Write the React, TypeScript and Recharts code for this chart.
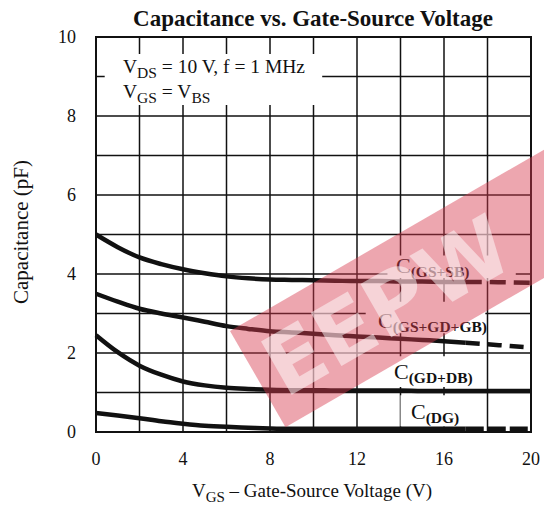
import React from 'react';
import { LineChart, Line, XAxis, YAxis, CartesianGrid, ReferenceArea } from 'recharts';

// V_GS sweep (V) and capacitance curves (pF)
const vgs = [0, 1, 2, 3, 4, 5, 6, 7, 8, 9, 10, 11, 12, 13, 14, 15, 16, 17, 18, 19, 20];
const cGsSb = [5.0, 4.68, 4.42, 4.25, 4.12, 4.02, 3.94, 3.89, 3.86, 3.85, 3.84, 3.83, 3.82, 3.82, 3.81, 3.81, 3.8, 3.8, 3.8, 3.79, 3.78];
const cGsGdGb = [3.5, 3.3, 3.12, 3.0, 2.9, 2.79, 2.68, 2.61, 2.55, 2.52, 2.49, 2.45, 2.42, 2.39, 2.36, 2.33, 2.3, 2.26, 2.22, 2.18, 2.14];
const cGdDb = [2.45, 2.02, 1.68, 1.45, 1.28, 1.18, 1.12, 1.09, 1.07, 1.06, 1.06, 1.05, 1.05, 1.05, 1.05, 1.04, 1.04, 1.04, 1.04, 1.04, 1.04];
const cDg = [0.48, 0.42, 0.35, 0.27, 0.21, 0.16, 0.13, 0.11, 0.09, 0.08, 0.08, 0.08, 0.08, 0.08, 0.08, 0.08, 0.08, 0.08, 0.08, 0.08, 0.08];

const xTicks = [0, 4, 8, 12, 16, 20];
const yTicks = [0, 2, 4, 6, 8, 10];
const gridX = [2, 4, 6, 8, 10, 12, 14, 16, 18];
const gridY = [1, 2, 3, 4, 5, 6, 7, 8, 9];

// curves go dashed past this voltage (extrapolated region)
const DASH_FROM = 17;

const seg = (ys: number[], from: number, to: number) =>
  vgs.map((x, i) => ({ x, y: ys[i] })).filter((p) => p.x >= from && p.x <= to);

const W = 544;
const H = 508;
const serif = '"Liberation Serif", "Times New Roman", serif';
const ink = '#111';

const curve = { type: 'monotone' as const, dataKey: 'y', stroke: ink, strokeWidth: 4.5, dot: false, isAnimationActive: false };

const CLabel = ({ x, y, sub }: { x: number; y: number; sub: string }) => (
  <text x={x} y={y} fontFamily={serif} fill={ink}>
    <tspan fontSize={22}>C</tspan>
    <tspan fontSize={15.5} fontWeight="bold" dy={4}>{sub}</tspan>
  </text>
);

const App: React.FC = () => {
  return (
    <div style={{ position: 'relative', width: W, height: H }}>
      <style>{'body { margin: 0; }'}</style>
      <LineChart width={W} height={H} margin={{ top: 37, right: 13, left: 0, bottom: 0 }}>
        <CartesianGrid
          stroke={ink}
          strokeWidth={1.5}
          horizontalValues={gridY}
          verticalValues={gridX}
        />
        <XAxis
          dataKey="x"
          type="number"
          domain={[0, 20]}
          ticks={xTicks}
          height={76}
          axisLine={false}
          tickLine={false}
          tickSize={0}
          tickMargin={20}
          tick={{ fontFamily: serif, fontSize: 18, fill: ink }}
        />
        <YAxis
          type="number"
          domain={[0, 10]}
          ticks={yTicks}
          width={96}
          axisLine={false}
          tickLine={false}
          tickSize={0}
          tickMargin={20}
          tick={{ fontFamily: serif, fontSize: 18, fill: ink }}
        />
        <ReferenceArea x1={0.4} x2={10.4} y1={8.28} y2={9.57} fill="#fff" fillOpacity={1} stroke="none" />
        <ReferenceArea x1={13.4} x2={19.3} y1={3.9} y2={4.47} fill="#fff" fillOpacity={1} stroke="none" />
        <ReferenceArea x1={12.4} x2={17.9} y1={2.5} y2={3.3} fill="#fff" fillOpacity={1} stroke="none" />
        <ReferenceArea x1={13.3} x2={17.9} y1={1.14} y2={1.92} fill="#fff" fillOpacity={1} stroke="none" />
        <ReferenceArea x1={14.0} x2={17.5} y1={0.14} y2={0.93} fill="#fff" fillOpacity={1} stroke="none" />
        <ReferenceArea x1={0} x2={20} y1={0} y2={10} fill="none" stroke={ink} strokeWidth={2} />

        <Line {...curve} data={seg(cGsSb, 0, DASH_FROM)} />
        <Line {...curve} data={seg(cGsSb, DASH_FROM, 20)} strokeDasharray="16 8" />
        <Line {...curve} data={seg(cGsGdGb, 0, DASH_FROM)} />
        <Line {...curve} data={seg(cGsGdGb, DASH_FROM, 20)} strokeDasharray="14 8" />
        <Line {...curve} data={seg(cGdDb, 0, 20)} />
        <Line {...curve} data={seg(cDg, 0, DASH_FROM)} />
        <Line {...curve} data={seg(cDg, DASH_FROM, 20)} strokeDasharray="18 4" />
      </LineChart>

      <svg width={W} height={H} style={{ position: 'absolute', left: 0, top: 0, pointerEvents: 'none' }}>
        <text x={313} y={26} textAnchor="middle" fontFamily={serif} fontSize={23} fontWeight="bold" fill={ink}>
          Capacitance vs. Gate-Source Voltage
        </text>
        <text transform="translate(28 232) rotate(-90)" textAnchor="middle" fontFamily={serif} fontSize={21} fill={ink}>
          Capacitance (pF)
        </text>
        <text x={312} y={497} textAnchor="middle" fontFamily={serif} fontSize={19} fill={ink}>
          V<tspan fontSize={15} dy={5}>GS</tspan>
          <tspan dy={-5}> – Gate-Source Voltage (V)</tspan>
        </text>

        <text x={123} y={73} fontFamily={serif} fontSize={19.5} fill={ink}>
          V<tspan fontSize={15.5} dy={5}>DS</tspan>
          <tspan dy={-5}> = 10 V, f = 1 MHz</tspan>
        </text>
        <text x={123} y={98} fontFamily={serif} fontSize={19.5} fill={ink}>
          V<tspan fontSize={15.5} dy={5}>GS</tspan>
          <tspan dy={-5}> = V</tspan>
          <tspan fontSize={15.5} dy={5}>BS</tspan>
        </text>

        <CLabel x={396} y={273} sub="(GS+SB)" />
        <CLabel x={378} y={328} sub="(GS+GD+GB)" />
        <CLabel x={394} y={379} sub="(GD+DB)" />
        <CLabel x={411} y={419} sub="(DG)" />

        {/* site watermark: pink band with pale letters */}
        <g transform="translate(230 331) rotate(-30)">
          <rect x={0} y={0} width={420} height={111} fill="#d63a4e" fillOpacity={0.45} />
          <text
            x={14}
            y={86}
            fontFamily='"DejaVu Sans", sans-serif'
            fontSize={84}
            fontWeight="bold"
            fill="#fff"
            fillOpacity={0.5}
          >
            EEPW
          </text>
        </g>
      </svg>
    </div>
  );
};

export default App;
